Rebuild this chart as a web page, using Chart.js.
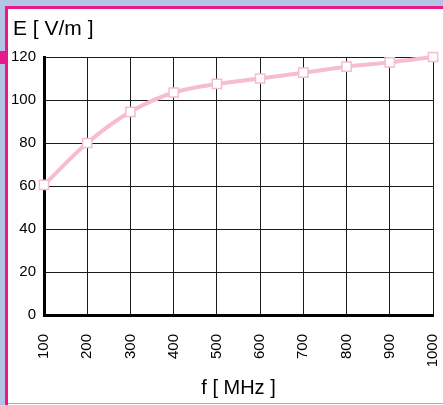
<!DOCTYPE html>
<html>
<head>
<meta charset="utf-8">
<script src="https://cdn.jsdelivr.net/npm/chart.js@4/dist/chart.umd.min.js"></script>
<style>
  html, body { margin: 0; padding: 0; background: #ffffff; }
  body { width: 443px; height: 405px; position: relative; overflow: hidden; font-family: "Liberation Sans", Arial, sans-serif; }
  .bar { position: absolute; }
  #wrap { position: absolute; left: 0; top: 0; width: 443px; height: 405px; }
</style>
</head>
<body>
<div class="bar" style="left:0;top:0;width:443px;height:6px;background:#b4c4e4;"></div>
<div class="bar" style="left:0;top:0;width:5px;height:405px;background:#b4c4e4;"></div>
<div class="bar" style="left:5px;top:6px;width:438px;height:3px;background:#e8198a;"></div>
<div class="bar" style="left:5px;top:6px;width:3px;height:399px;background:#e8198a;"></div>
<div class="bar" style="left:0;top:51px;width:6px;height:13px;background:#e8198a;"></div>
<div class="bar" style="left:8px;top:403px;width:435px;height:1px;background:#f48cc4;"></div>
<div id="wrap"><canvas id="c" width="443" height="405"></canvas></div>
<script>
const frequencies = [100, 200, 300, 400, 500, 600, 700, 800, 900, 1000];
const fieldStrength = [60.5, 80, 94.5, 103.5, 107.5, 110, 112.7, 115.5, 117.5, 120];
const yTicks = [0, 20, 40, 60, 80, 100, 120];
const yTitle = 'E [ V/m ]';
const xTitle = 'f [ MHz ]';

const FONT = '"Liberation Sans", Arial, sans-serif';
const PINK = '#f6bccf';

const yTitlePlugin = {
  id: 'yTitle',
  afterDraw(chart) {
    const ctx = chart.ctx;
    ctx.save();
    ctx.font = '21px ' + FONT;
    ctx.fillStyle = '#000';
    ctx.textBaseline = 'alphabetic';
    ctx.textAlign = 'left';
    ctx.fillText(yTitle, 13, 35);
    ctx.restore();
  }
};

new Chart(document.getElementById('c'), {
  type: 'line',
  data: {
    datasets: [{
      data: frequencies.map((f, i) => ({ x: f, y: fieldStrength[i] })),
      borderColor: PINK,
      borderWidth: 4,
      cubicInterpolationMode: 'monotone',
      pointStyle: 'rect',
      pointRadius: 6.5,
      pointBorderWidth: 1.5,
      pointBorderColor: PINK,
      pointBackgroundColor: '#ffffff',
      clip: false
    }]
  },
  options: {
    responsive: false,
    animation: false,
    devicePixelRatio: 1,
    layout: { padding: { top: 57, right: 10, left: 0, bottom: 0 } },
    plugins: { legend: { display: false }, tooltip: { enabled: false } },
    scales: {
      x: {
        type: 'linear',
        min: 100, max: 1000,
        afterFit(s) { s.height = 90; s.paddingLeft = 0; s.paddingRight = 0; },
        afterBuildTicks(s) { s.ticks = frequencies.map(v => ({ value: v })); },
        ticks: {
          minRotation: 90, maxRotation: 90,
          padding: 19,
          color: '#000',
          font: { family: FONT, size: 15 },
          callback: v => String(v)
        },
        grid: { color: '#1a1a1a', lineWidth: 1, drawTicks: false },
        border: { color: '#000', width: 3 },
        title: {
          display: true, text: xTitle, color: '#000',
          font: { family: FONT, size: 20 },
          padding: { top: 0, bottom: 5 }
        }
      },
      y: {
        min: 0, max: 120,
        afterFit(s) { s.width = 44; s.paddingTop = 0; s.paddingBottom = 0; },
        afterBuildTicks(s) { s.ticks = yTicks.map(v => ({ value: v })); },
        ticks: {
          padding: 8,
          color: '#000',
          font: { family: FONT, size: 15 },
          callback: v => String(v)
        },
        grid: { color: '#1a1a1a', lineWidth: 1, drawTicks: false },
        border: { color: '#000', width: 3 }
      }
    }
  },
  plugins: [yTitlePlugin]
});
</script>
</body>
</html>
